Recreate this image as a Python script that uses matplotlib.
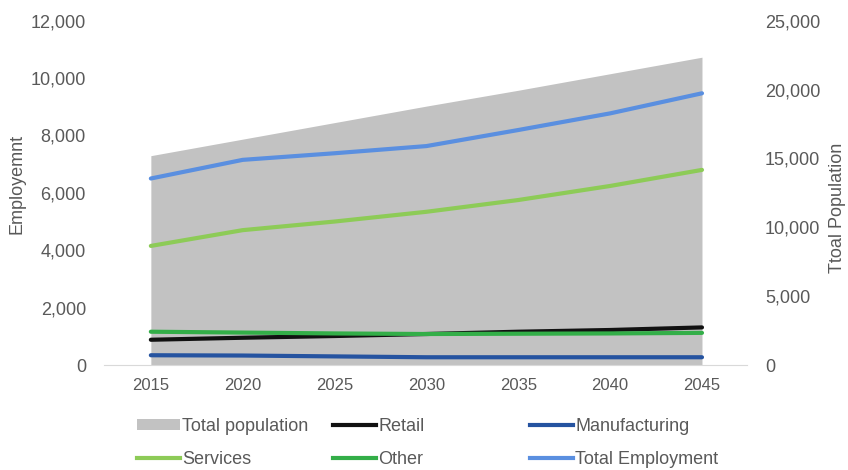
import matplotlib
matplotlib.use("Agg")
import matplotlib.pyplot as plt
from matplotlib.ticker import FuncFormatter
from matplotlib.patches import Patch
from matplotlib.lines import Line2D

plt.rcParams['font.family'] = ['Liberation Sans', 'DejaVu Sans']

years = [2015, 2020, 2025, 2030, 2035, 2040, 2045]
total_population = [15200, 16400, 17600, 18800, 19950, 21150, 22350]
retail = [880, 950, 1010, 1080, 1160, 1220, 1310]
manufacturing = [340, 330, 300, 270, 270, 270, 270]
services = [4150, 4700, 5000, 5340, 5750, 6240, 6800]
other = [1160, 1130, 1100, 1080, 1090, 1100, 1120]
total_employment = [6500, 7150, 7380, 7630, 8190, 8770, 9470]

text_color = '#595959'
c_pop = '#C2C2C2'
c_retail = '#111111'
c_manu = '#2553A0'
c_serv = '#8DCB57'
c_other = '#33AE48'
c_total = '#5A8FE0'

W, H = 848, 470
fig = plt.figure(figsize=(W / 100, H / 100), dpi=100)
ax = fig.add_axes([104 / W, 1 - 365 / H, (747 - 104) / W, (365 - 20.7) / H])
ax2 = ax.twinx()

# population area on the secondary axis, drawn behind the employment lines
ax2.fill_between(years, 0, total_population, color=c_pop, linewidth=0)
ax2.set_ylim(0, 25000)
ax2.set_yticks(range(0, 25001, 5000))
ax.set_zorder(ax2.get_zorder() + 1)
ax.patch.set_visible(False)

lw = 3.0
for series, col in [(retail, c_retail), (manufacturing, c_manu),
                    (services, c_serv), (other, c_other),
                    (total_employment, c_total)]:
    ax.plot(years, series, color=col, lw=lw, solid_capstyle='round')

ax.set_ylim(0, 12000)
ax.set_yticks(range(0, 12001, 2000))
ax.set_xlim(2012.45, 2047.45)
ax.set_xticks(years)

fmt = FuncFormatter(lambda v, p: f'{int(v):,}')
ax.yaxis.set_major_formatter(fmt)
ax2.yaxis.set_major_formatter(fmt)

for a in (ax, ax2):
    for s in a.spines.values():
        s.set_visible(False)
    a.tick_params(length=0, colors=text_color, labelsize=13)
ax.spines['bottom'].set_visible(True)
ax.spines['bottom'].set_color('#D9D9D9')
ax.tick_params(axis='y', pad=13)
ax.tick_params(axis='x', pad=9, labelsize=12)
ax2.tick_params(axis='y', pad=13)

ax.set_ylabel('Employemnt', color=text_color, fontsize=13)
ax2.set_ylabel('Ttoal Population', color=text_color, fontsize=13)
ax.yaxis.set_label_coords((26 - 104) / (747 - 104), (365 - 184) / (365 - 20.7))
ax2.yaxis.set_label_coords((829 - 104) / (747 - 104), (365 - 208) / (365 - 20.7))

legend_columns = [
    (137, [Patch(facecolor=c_pop, edgecolor='none'), Line2D([], [], color=c_serv, lw=lw)],
     ['Total population', 'Services']),
    (333, [Line2D([], [], color=c_retail, lw=lw), Line2D([], [], color=c_other, lw=lw)],
     ['Retail', 'Other']),
    (530, [Line2D([], [], color=c_manu, lw=lw), Line2D([], [], color=c_total, lw=lw)],
     ['Manufacturing', 'Total Employment']),
]
for x0, hs, ls in legend_columns:
    leg = fig.legend(hs, ls, loc='center left', bbox_to_anchor=(x0 / W, 1 - 443 / H),
                     frameon=False, fontsize=13, handlelength=2.4, handletextpad=0.1,
                     labelspacing=0.88, handleheight=0.55, borderpad=0, borderaxespad=0)
    for t in leg.get_texts():
        t.set_color(text_color)

fig.savefig('out.png', dpi=100)
